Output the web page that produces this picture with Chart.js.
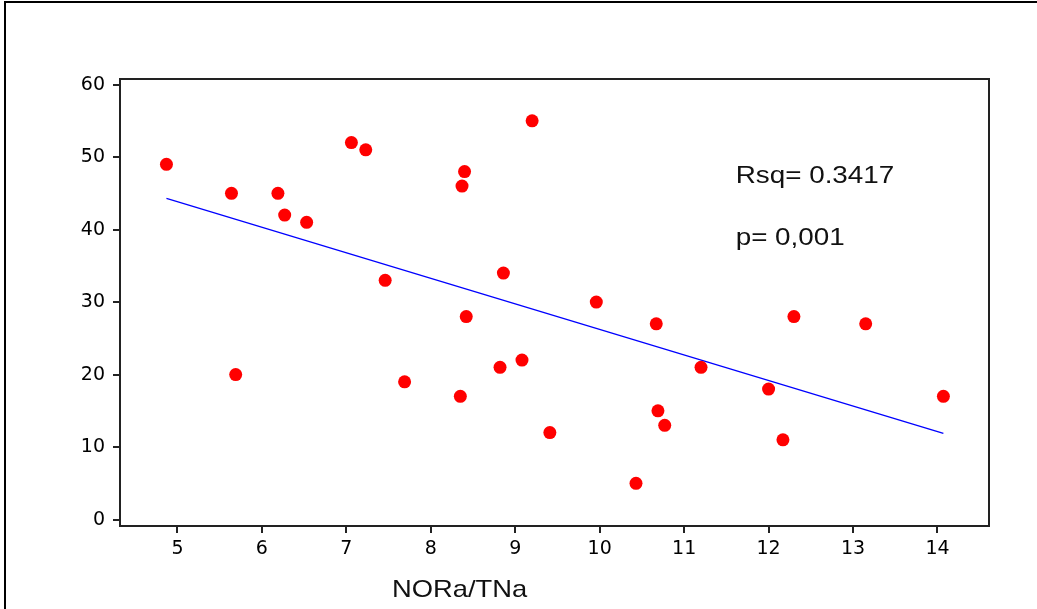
<!DOCTYPE html>
<html>
<head>
<meta charset="utf-8">
<script src="https://cdn.jsdelivr.net/npm/chart.js@4/dist/chart.umd.min.js"></script>
<style>
  html, body { margin: 0; padding: 0; background: #fff; }
  #wrap { width: 1037px; height: 609px; position: relative; }
</style>
</head>
<body>
<div id="wrap"><canvas id="scatter" width="1037" height="609"></canvas></div>
<script>
// NORa/TNa against the measured value, one point per subject
const noraTna = [4.87, 5.64, 5.69, 6.19, 6.27, 6.53, 7.06, 7.23, 7.46, 7.69,
                 8.40, 8.37, 8.42, 8.35, 8.86, 8.82, 9.08, 9.20, 9.41, 9.96,
                 10.43, 10.67, 10.69, 10.77, 11.20, 12.00, 12.17, 12.30, 13.15, 14.07];
const values  = [49, 45, 20, 45, 42, 41, 52, 51, 33, 19,
                 48, 46, 28, 17, 34, 21, 22, 55, 12, 30,
                 5, 27, 15, 13, 21, 18, 11, 28, 27, 17];

// fitted regression line, end points
const fitX = [4.87, 14.07];
const fitY = [44.3, 11.9];

const xTicks = [5, 6, 7, 8, 9, 10, 11, 12, 13, 14];
const yTicks = [0, 10, 20, 30, 40, 50, 60];

const rsqText = "Rsq= 0.3417";
const pText = "p= 0,001";
const xTitle = "NORa/TNa";

const points = noraTna.map((x, i) => ({ x: x, y: values[i] }));
const fitLine = fitX.map((x, i) => ({ x: x, y: fitY[i] }));

// frame, plot box and the text labels
const decorations = {
  id: "decorations",
  beforeDraw(chart) {
    const ctx = chart.ctx;
    ctx.save();
    ctx.strokeStyle = "#000";
    ctx.lineWidth = 2;
    ctx.beginPath();
    ctx.moveTo(5, 609);
    ctx.lineTo(5, 2);
    ctx.lineTo(1037, 2);
    ctx.stroke();
    ctx.restore();
  },
  afterDraw(chart) {
    const ctx = chart.ctx;
    const a = chart.chartArea;
    const xs = chart.scales.x;
    const ys = chart.scales.y;
    ctx.save();
    ctx.strokeStyle = "#222";
    ctx.lineWidth = 2;
    ctx.strokeRect(a.left, a.top, a.right - a.left, a.bottom - a.top);

    ctx.fillStyle = "#111";
    ctx.textBaseline = "alphabetic";
    ctx.textAlign = "left";
    const drawWide = (txt, px, py, sx) => {
      ctx.save();
      ctx.translate(px, py);
      ctx.scale(sx, 1);
      ctx.fillText(txt, 0, 0);
      ctx.restore();
    };
    ctx.font = "24px 'Liberation Sans', Arial, sans-serif";
    drawWide(rsqText, xs.getPixelForValue(11.61), ys.getPixelForValue(46.45), 1.16);
    drawWide(pText, xs.getPixelForValue(11.61), ys.getPixelForValue(37.9), 1.16);
    drawWide(xTitle, 392, 597, 1.14);
    ctx.restore();
  }
};

new Chart(document.getElementById("scatter"), {
  type: "scatter",
  data: {
    datasets: [
      {
        label: "fit",
        type: "line",
        data: fitLine,
        borderColor: "#0000ff",
        borderWidth: 1.3,
        pointRadius: 0,
        fill: false,
        tension: 0,
        order: 2,
      },
      {
        label: "subjects",
        data: points,
        backgroundColor: "#ff0000",
        borderWidth: 0,
        pointRadius: 6.5,
        pointHoverRadius: 6.5,
        order: 1,
      },
    ],
  },
  options: {
    responsive: false,
    animation: false,
    events: [],
    layout: { padding: { left: 0, top: 79, right: 48, bottom: 0 } },
    plugins: {
      legend: { display: false },
      tooltip: { enabled: false },
    },
    scales: {
      x: {
        type: "linear",
        min: 4.32,
        max: 14.61,
        afterBuildTicks: (s) => { s.ticks = xTicks.map((v) => ({ value: v })); },
        afterFit: (s) => { s.height = 83; },
        grid: { drawOnChartArea: false, color: "#222", lineWidth: 2, tickLength: 7 },
        border: { display: true, color: "#222", width: 2 },
        ticks: {
          color: "#000",
          padding: 5,
          maxRotation: 0,
          font: { family: "'DejaVu Sans', Verdana, sans-serif", size: 19 },
        },
      },
      y: {
        type: "linear",
        min: -0.88,
        max: 60.77,
        afterBuildTicks: (s) => { s.ticks = yTicks.map((v) => ({ value: v })); },
        afterFit: (s) => { s.width = 120; },
        grid: { drawOnChartArea: false, color: "#222", lineWidth: 2, tickLength: 7 },
        border: { display: true, color: "#222", width: 2 },
        ticks: {
          color: "#000",
          padding: 8,
          font: { family: "'DejaVu Sans', Verdana, sans-serif", size: 19 },
        },
      },
    },
  },
  plugins: [decorations],
});
</script>
</body>
</html>
